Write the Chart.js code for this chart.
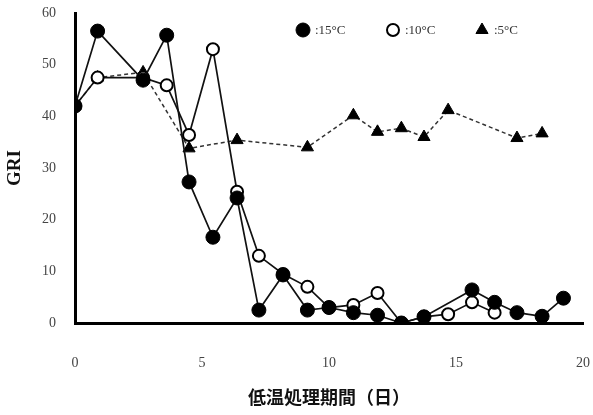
<!DOCTYPE html>
<html>
<head>
<meta charset="utf-8">
<script src="https://cdn.jsdelivr.net/npm/chart.js@4/dist/chart.umd.min.js"></script>
<style>
  body { margin: 0; background: #fff; }
  canvas { display: block; }
</style>
</head>
<body>
<canvas id="griChart" width="593" height="415"></canvas>
<script>
// dati (giorni di trattamento a bassa temperatura, GRI)
const giorni15 = [0, 0.89, 2.68, 3.61, 4.49, 5.43, 6.38, 7.24, 8.19, 9.15, 10.0, 10.96, 11.91, 12.85, 13.74, 15.63, 16.52, 17.4, 18.39, 19.23];
const gri15 = [42, 56.5, 47, 55.7, 27.3, 16.6, 24.2, 2.5, 9.3, 2.5, 3, 2, 1.5, 0, 1.2, 6.4, 4, 2, 1.3, 4.8];

const giorni10 = [0, 0.89, 2.68, 3.61, 4.49, 5.43, 6.38, 7.24, 8.19, 9.15, 10.0, 10.96, 11.91, 12.85, 13.74, 14.69, 15.63, 16.52];
const gri10 = [42, 47.5, 47.5, 46, 36.4, 53, 25.4, 13, 9.5, 7, 3, 3.5, 5.8, 0, 1.2, 1.7, 4, 2];

const giorni5 = [0, 0.89, 2.68, 4.49, 6.38, 9.15, 10.96, 11.91, 12.85, 13.74, 14.69, 17.4, 18.39];
const gri5 = [42, 47.5, 48.5, 33.8, 35.4, 34, 40.2, 37, 37.7, 36, 41.2, 35.8, 36.7];

const etichette = [':15°C', ':10°C', ':5°C'];
const tickX = [0, 5, 10, 15, 20];
const tickY = [0, 10, 20, 30, 40, 50, 60];

function punti(xs, ys) {
    return xs.map((x, i) => ({ x: x, y: ys[i] }));
}

const serif = '"Liberation Serif", "DejaVu Serif", serif';

// legenda disegnata a mano dentro l'area del grafico (in alto a destra)
const legendaInterna = {
    id: 'legendaInterna',
    afterDraw(chart) {
        const ctx = chart.ctx;
        const area = chart.chartArea;
        const xInizio = [area.right - 280, area.right - 190, area.right - 101];
        const yCentro = area.top + 17;
        ctx.save();
        chart.data.datasets.forEach((ds, i) => {
            ctx.fillStyle = ds.pointBackgroundColor;
            ctx.strokeStyle = ds.pointBorderColor;
            ctx.lineWidth = ds.pointBorderWidth;
            Chart.helpers.drawPoint(ctx, {
                pointStyle: ds.pointStyle,
                radius: ds.pointRadius,
                borderWidth: ds.pointBorderWidth
            }, xInizio[i], yCentro);
            ctx.fillStyle = '#333';
            ctx.font = '13px ' + serif;
            ctx.textBaseline = 'middle';
            ctx.textAlign = 'left';
            ctx.fillText(ds.label, xInizio[i] + 12, yCentro + 1);
        });
        ctx.restore();
    }
};

new Chart(document.getElementById('griChart').getContext('2d'), {
    type: 'line',
    data: {
        datasets: [
            {
                label: etichette[0],
                data: punti(giorni15, gri15),
                borderColor: '#111',
                borderWidth: 1.7,
                backgroundColor: '#000',
                pointBackgroundColor: '#000',
                pointBorderColor: '#000',
                pointStyle: 'circle',
                pointRadius: 7,
                pointBorderWidth: 1
            },
            {
                label: etichette[1],
                data: punti(giorni10, gri10),
                borderColor: '#111',
                borderWidth: 1.7,
                backgroundColor: '#fff',
                pointBackgroundColor: '#fff',
                pointBorderColor: '#000',
                pointStyle: 'circle',
                pointRadius: 6,
                pointBorderWidth: 2
            },
            {
                label: etichette[2],
                data: punti(giorni5, gri5),
                borderColor: '#333',
                borderWidth: 1.5,
                borderDash: [4, 3],
                backgroundColor: '#000',
                pointBackgroundColor: '#000',
                pointBorderColor: '#000',
                pointStyle: 'triangle',
                pointRadius: 7,
                pointBorderWidth: 1
            }
        ]
    },
    options: {
        responsive: false,
        animation: false,
        layout: { padding: { top: 13, right: 10, left: 0, bottom: 0 } },
        plugins: {
            tooltip: { enabled: false },
            legend: { display: false }
        },
        scales: {
            x: {
                type: 'linear',
                min: 0,
                max: 20,
                afterFit: s => { s.height = 92; s.paddingLeft = 0; s.paddingRight = 0; },
                afterBuildTicks: s => { s.ticks = tickX.map(v => ({ value: v })); },
                grid: { display: false, drawTicks: false },
                border: { display: true, color: '#000', width: 3 },
                ticks: {
                    padding: 32,
                    color: '#444',
                    font: { family: serif, size: 14 }
                },
                title: {
                    display: true,
                    text: '低温処理期間（日）',
                    color: '#111',
                    padding: { top: 4, bottom: 7 },
                    font: { family: '"Noto Sans CJK JP", sans-serif', size: 18, weight: 'bold' }
                }
            },
            y: {
                type: 'linear',
                min: 0,
                max: 60,
                afterFit: s => { s.width = 75; s.paddingTop = 0; s.paddingBottom = 0; },
                afterBuildTicks: s => { s.ticks = tickY.map(v => ({ value: v })); },
                grid: { display: false, drawTicks: false },
                border: { display: true, color: '#000', width: 3 },
                ticks: {
                    padding: 19,
                    color: '#444',
                    font: { family: serif, size: 14 }
                },
                title: {
                    display: true,
                    text: 'GRI',
                    color: '#111',
                    padding: { top: 4, bottom: 0 },
                    font: { family: serif, size: 19, weight: 'bold' }
                }
            }
        }
    },
    plugins: [legendaInterna]
});
</script>
</body>
</html>
